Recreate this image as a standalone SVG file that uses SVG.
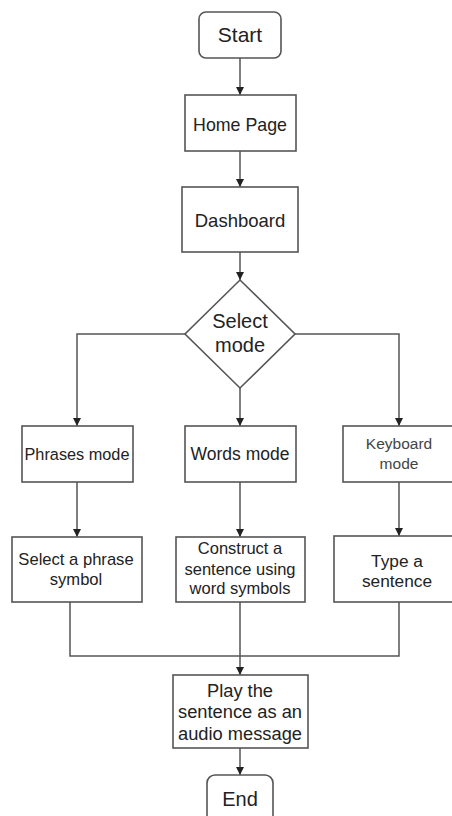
<svg xmlns="http://www.w3.org/2000/svg" width="452" height="816" viewBox="0 0 452 816">
<defs>
<marker id="ah" viewBox="0 0 8 8" refX="8" refY="4" markerWidth="8" markerHeight="8" markerUnits="userSpaceOnUse" orient="auto">
<path d="M0,0 L8,4 L0,8 z" fill="#222"/>
</marker>
<style>
.box{fill:#fff;stroke:#555;stroke-width:1.6}
.t{font-family:"Liberation Sans",Arial,sans-serif;fill:#222;text-anchor:middle}
.ln{fill:none;stroke:#555;stroke-width:1.5}
.ar{fill:none;stroke:#555;stroke-width:1.5;marker-end:url(#ah)}
</style>
</defs>
<rect width="452" height="816" fill="#fff"/>
<g id="connectors">
<path class="ar" d="M240,58 V95"/>
<path class="ar" d="M240,151 V187"/>
<path class="ar" d="M240,252 V280"/>
<path class="ar" d="M185,334 H77 V426"/>
<path class="ar" d="M240,388 V426"/>
<path class="ar" d="M295,334 H399 V426"/>
<path class="ar" d="M77,482 V537"/>
<path class="ar" d="M240,482 V537"/>
<path class="ar" d="M399,482 V536"/>
<path class="ln" d="M70,602 V656 H399 V602"/>
<path class="ar" d="M240,602 V675"/>
<path class="ar" d="M240,748 V775"/>
</g>
<g id="start">
<rect class="box" x="199" y="12" width="82" height="46" rx="7"/>
<text class="t" x="240" y="42" font-size="21">Start</text>
</g>
<g id="home">
<rect class="box" x="185" y="95" width="111" height="56"/>
<text class="t" x="240" y="131" font-size="17.8">Home Page</text>
</g>
<g id="dashboard">
<rect class="box" x="182" y="187" width="116" height="65"/>
<text class="t" x="240" y="227" font-size="18.5">Dashboard</text>
</g>
<g id="select-mode">
<polygon class="box" points="240,280 295,334 240,388 185,334"/>
<text class="t" x="240" y="328" font-size="20">Select</text>
<text class="t" x="240" y="352" font-size="20">mode</text>
</g>
<g id="phrases-mode">
<rect class="box" x="22" y="426" width="111" height="56"/>
<text class="t" x="77" y="460" font-size="16.3">Phrases mode</text>
</g>
<g id="words-mode">
<rect class="box" x="185" y="426" width="111" height="56"/>
<text class="t" x="240" y="460" font-size="17.5">Words mode</text>
</g>
<g id="keyboard-mode">
<rect class="box" x="343" y="426" width="112" height="56"/>
<text class="t" x="399" y="449" font-size="15.5" style="fill:#444">Keyboard</text>
<text class="t" x="399" y="469" font-size="15.5" style="fill:#444">mode</text>
</g>
<g id="select-phrase">
<rect class="box" x="12" y="537" width="130" height="65"/>
<text class="t" x="76" y="565" font-size="16.6">Select a phrase</text>
<text class="t" x="76" y="585" font-size="16.6">symbol</text>
</g>
<g id="construct">
<rect class="box" x="176" y="537" width="129" height="65"/>
<text class="t" x="240" y="554" font-size="16.5">Construct a</text>
<text class="t" x="240" y="575" font-size="16.5">sentence using</text>
<text class="t" x="240" y="594" font-size="16.5">word symbols</text>
</g>
<g id="type-sentence">
<rect class="box" x="334" y="536" width="121" height="66"/>
<text class="t" x="397" y="567" font-size="17.3">Type a</text>
<text class="t" x="397" y="587" font-size="17.3">sentence</text>
</g>
<g id="play">
<rect class="box" x="173" y="675" width="135" height="73"/>
<text class="t" x="240" y="697" font-size="18.3">Play the</text>
<text class="t" x="240" y="718" font-size="18.3">sentence as an</text>
<text class="t" x="240" y="740" font-size="18.3">audio message</text>
</g>
<g id="end">
<rect class="box" x="207" y="775" width="66" height="56" rx="8"/>
<text class="t" x="240" y="806" font-size="20">End</text>
</g>
</svg>
